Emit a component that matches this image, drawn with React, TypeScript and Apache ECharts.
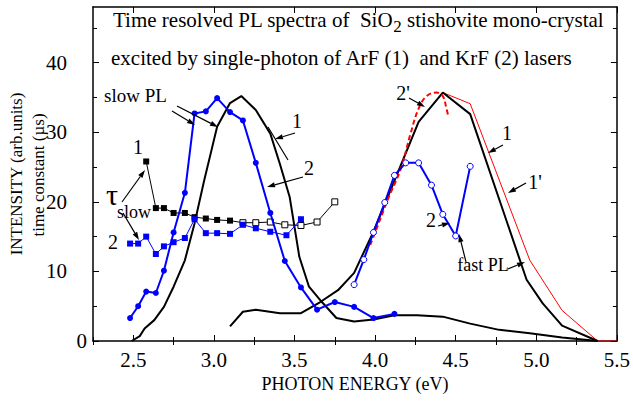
import React, { useEffect, useRef } from "react";
import * as echarts from "echarts";

const FONT = "Liberation Serif";

// X ticks / Y ticks
const xMajor = [2.5, 3.0, 3.5, 4.0, 4.5, 5.0, 5.5];
const xMinor = [2.25, 2.75, 3.25, 3.75, 4.25, 4.75, 5.25];
const yMajor = [0, 10, 20, 30, 40];
const yMinor = [5, 15, 25, 35, 45];

// Slow PL, ArF (1) — black thick
const slowPLArF = [
  [2.49, 0], [2.54, 0.7], [2.57, 1.8], [2.63, 3.0], [2.69, 4.9], [2.75, 7.8], [2.82, 11.6],
  [2.88, 16.9], [2.94, 23.1], [2.99, 27.9], [3.02, 30.8], [3.10, 34.2], [3.17, 35.2],
  [3.26, 33.2], [3.35, 29.8], [3.41, 25.4], [3.47, 20.7], [3.53, 12.1], [3.59, 7.8],
  [3.67, 5.6], [3.76, 3.3], [3.87, 2.8], [3.99, 3.1], [4.12, 3.7], [4.26, 3.7],
  [4.42, 3.5], [4.59, 2.5], [4.77, 1.6], [4.96, 1.1], [5.16, 0.5], [5.38, 0],
];

// Fast PL, ArF (1) — black thick
const fastPLArF = [
  [3.10, 2.1], [3.18, 4.2], [3.26, 4.5], [3.41, 4.0], [3.54, 4.0], [3.66, 5.6],
  [3.77, 7.3], [3.87, 9.8], [3.99, 15.7], [4.13, 23.6], [4.27, 31.5], [4.42, 35.7],
  [4.59, 32.6], [4.94, 8.8], [5.04, 5.4], [5.16, 2.2], [5.38, 0],
];

// Fast PL, ArF (1') — red thin
const fastPLArF1p = [
  [3.99, 15.7], [4.13, 23.6], [4.27, 31.5], [4.42, 35.7], [4.59, 34.1],
  [4.96, 11.6], [5.16, 4.4], [5.38, 0], [5.5, 0],
];

// Fit (2') — red dashed
const fit2p = [
  [3.97, 13.8], [4.02, 16.8], [4.08, 20.4], [4.16, 24.8], [4.22, 29.8], [4.27, 33.4],
  [4.32, 35.2], [4.38, 35.7], [4.42, 35.2], [4.44, 33.7], [4.455, 32.2],
];

// Slow PL, KrF (2) — blue filled circles
const slowPLKrF = [
  [2.48, 3.3], [2.53, 5.0], [2.58, 7.1], [2.64, 6.9], [2.69, 10.1], [2.75, 15.6],
  [2.82, 21.3], [2.88, 32.7], [2.95, 33.0], [3.02, 34.9], [3.10, 32.9], [3.18, 31.7],
  [3.26, 25.6], [3.35, 18.4], [3.44, 11.5], [3.54, 7.7], [3.64, 4.5], [3.75, 5.6],
  [3.87, 4.9], [3.99, 3.3], [4.12, 3.9],
];

// Fast PL, KrF (2) — blue open circles
const fastPLKrF = [
  [3.87, 8.1], [3.93, 11.7], [3.99, 15.6], [4.06, 19.9], [4.12, 23.8], [4.19, 25.6],
  [4.27, 25.6], [4.35, 22.4], [4.42, 18.2], [4.50, 15.1], [4.59, 25.1],
];

// tau slow (1) — black squares (open from index 9)
const tauSlow1 = [
  [2.58, 25.8], [2.64, 19.1], [2.69, 19.1], [2.75, 18.4], [2.82, 18.4], [2.88, 17.8],
  [2.95, 17.6], [3.02, 17.4], [3.10, 17.3], [3.18, 17.0], [3.26, 17.0], [3.35, 17.1],
  [3.44, 16.7], [3.54, 16.6], [3.64, 17.1], [3.75, 20.0],
];
const tauSlow1OpenFrom = 9;

// tau slow (2) — blue squares
const tauSlow2 = [
  [2.48, 14.0], [2.53, 14.0], [2.58, 15.0], [2.64, 12.5], [2.69, 13.6], [2.75, 14.2],
  [2.82, 14.8], [2.88, 17.5], [2.95, 15.5], [3.02, 15.5], [3.10, 15.4], [3.18, 16.7],
  [3.26, 16.2], [3.35, 15.7], [3.45, 15.2], [3.54, 17.5],
];

const BLUE = "#0000ff";
const RED = "#ff0000";

function arrow(x1: number, y1: number, x2: number, y2: number, head = 8, w = 2.6) {
  const a = Math.atan2(y2 - y1, x2 - x1);
  const c = Math.cos(a), s = Math.sin(a);
  const bx = x2 - head * c, by = y2 - head * s;
  return [
    { type: "line", shape: { x1, y1, x2: bx, y2: by }, style: { stroke: "#000", lineWidth: 1.2 }, z: 100 },
    {
      type: "polygon",
      shape: { points: [[x2, y2], [bx + w * s, by - w * c], [bx - w * s, by + w * c]] },
      style: { fill: "#000" },
      z: 100,
    },
  ];
}

function label(text: string, x: number, y: number, size = 20, align = "center") {
  return {
    type: "text",
    x,
    y,
    z: 100,
    style: { text, fontSize: size, fontFamily: FONT, fill: "#000", align, verticalAlign: "middle" },
  };
}

export default function App() {
  const ref = useRef<HTMLDivElement>(null);
  useEffect(() => {
    if (!ref.current) return;
    const chart = echarts.init(ref.current, null, { renderer: "svg" });
    const xMin = 2.25, xMax = 5.5, yMin = 0, yMax = 48;
    const frame = { show: true, onZero: false, lineStyle: { color: "#000", width: 1.5 } };
    const txt = { fontFamily: FONT, fontWeight: "normal" as const, fontStyle: "normal" as const };
    const mkX = (pos: string, vals: number[], len: number, showLine: boolean, labels: boolean) => ({
      type: "value",
      min: xMin,
      max: xMax,
      position: pos,
      axisLine: showLine ? frame : { show: false },
      axisTick: { show: true, inside: true, length: len, customValues: vals, lineStyle: { color: "#000", width: 1 } },
      axisLabel: labels
        ? { show: true, customValues: vals, formatter: (v: number) => v.toFixed(1), color: "#000", fontSize: 21, margin: 8, ...txt }
        : { show: false },
      splitLine: { show: false },
    });
    const mkY = (pos: string, vals: number[], len: number, showLine: boolean, labels: boolean) => ({
      type: "value",
      min: yMin,
      max: yMax,
      position: pos,
      axisLine: showLine ? frame : { show: false },
      axisTick: { show: true, inside: true, length: len, customValues: vals, lineStyle: { color: "#000", width: 1 } },
      axisLabel: labels
        ? {
            show: true,
            customValues: vals,
            formatter: (v: number) => (v === 0 ? "0" : `{w|${v}}`),
            rich: { w: { fontSize: 21, color: "#000", padding: [0, 20, 0, 0], ...txt } },
            color: "#000",
            fontSize: 21,
            margin: 6,
            ...txt,
          }
        : { show: false },
      splitLine: { show: false },
    });

    const xBottom: any = mkX("bottom", xMajor, 6, true, true);
    xBottom.name = "PHOTON ENERGY (eV)";
    xBottom.nameLocation = "middle";
    xBottom.nameGap = 33;
    xBottom.nameTextStyle = { color: "#000", fontSize: 18, ...txt };

    const lineSeries = (data: any[], extra: any) => ({
      type: "line",
      data,
      xAxisIndex: 0,
      yAxisIndex: 0,
      symbol: "none",
      ...extra,
    });

    const graphics: any[] = [
      {
        type: "text",
        x: 113,
        y: 20,
        z: 100,
        style: {
          text: "Time resolved PL spectra of  SiO{s|2} stishovite mono-crystal",
          fontSize: 21,
          fontFamily: FONT,
          fill: "#000",
          align: "left",
          verticalAlign: "middle",
          rich: { s: { fontSize: 17, fontFamily: FONT, fill: "#000", padding: [13, 0, 0, 0] } },
        },
      },
      label("excited by single-photon of ArF (1)  and KrF (2) lasers", 111, 58, 21, "left"),
      {
        type: "text",
        x: 16,
        y: 174,
        rotation: Math.PI / 2,
        style: { text: "INTENSITY (arb.units)", fontSize: 17, fontFamily: FONT, fill: "#000", align: "center", verticalAlign: "middle" },
      },
      {
        type: "text",
        x: 38,
        y: 175,
        rotation: Math.PI / 2,
        style: { text: "time constant (µs)", fontSize: 17, fontFamily: FONT, fill: "#000", align: "center", verticalAlign: "middle" },
      },
      label("slow PL", 104, 95, 19, "left"),
      label("1", 297, 121),
      label("2", 309, 168),
      label("1", 138, 147),
      label("\u03C4", 112, 194, 30),
      label("slow", 134, 212, 18),
      label("2", 113, 242),
      label("2'", 403, 93),
      label("1", 507, 133),
      label("1'", 535, 182),
      label("2", 431, 220),
      label("fast PL", 483, 265, 18),
      { type: "line", shape: { x1: 268, y1: 127, x2: 288, y2: 160 }, style: { stroke: "#000", lineWidth: 1.2 }, z: 100 },
      ...arrow(172, 111, 195, 125),
      ...arrow(177, 106, 218, 127),
      ...arrow(295, 133, 275, 139),
      ...arrow(303, 177, 267, 187),
      ...arrow(122, 202, 145, 170),
      ...arrow(123, 213, 139, 240),
      ...arrow(409, 98, 425, 107),
      ...arrow(503, 145, 488, 153),
      ...arrow(526, 183, 508, 193),
      ...arrow(438, 226, 450, 223),
      ...arrow(466, 262, 459, 234),
      ...arrow(508, 269, 525, 262),
    ];

    chart.setOption({
      animation: false,
      backgroundColor: "#fff",
      textStyle: { fontFamily: FONT, fontWeight: "normal" },
      grid: { left: 93, top: 7, right: 11, bottom: 62, containLabel: false },
      xAxis: [
        xBottom,
        mkX("bottom", xMinor, 4, false, false),
        mkX("top", xMajor, 6, true, false),
        mkX("top", xMinor, 4, false, false),
      ],
      yAxis: [
        mkY("left", yMajor, 6, true, true),
        mkY("left", yMinor, 4, false, false),
        mkY("right", yMajor, 6, true, false),
        mkY("right", yMinor, 4, false, false),
      ],
      series: [
        lineSeries(fastPLArF1p, { lineStyle: { color: RED, width: 1 }, itemStyle: { color: RED }, z: 2 }),
        lineSeries(slowPLArF, { lineStyle: { color: "#000", width: 2 }, itemStyle: { color: "#000" }, z: 3 }),
        lineSeries(fastPLArF, { lineStyle: { color: "#000", width: 2 }, itemStyle: { color: "#000" }, z: 3 }),
        lineSeries(fit2p, { smooth: 0.4, lineStyle: { color: RED, width: 2, type: [5, 3] }, itemStyle: { color: RED }, z: 4 }),
        lineSeries(tauSlow1.map((p, i) =>
          i >= tauSlow1OpenFrom
            ? { value: p, itemStyle: { color: "#fff", borderColor: "#000", borderWidth: 1 } }
            : { value: p }
        ), {
          symbol: "rect", symbolSize: 6, showSymbol: true,
          lineStyle: { color: "#000", width: 1 }, itemStyle: { color: "#000" }, z: 5,
        }),
        lineSeries(tauSlow2, {
          symbol: "rect", symbolSize: 6, showSymbol: true,
          lineStyle: { color: BLUE, width: 1 }, itemStyle: { color: BLUE }, z: 6,
        }),
        lineSeries(slowPLKrF, {
          symbol: "circle", symbolSize: 6, showSymbol: true,
          lineStyle: { color: BLUE, width: 2 }, itemStyle: { color: BLUE }, z: 7,
        }),
        lineSeries(fastPLKrF, {
          symbol: "circle", symbolSize: 6, showSymbol: true,
          lineStyle: { color: BLUE, width: 2 }, itemStyle: { color: "#fff", borderColor: BLUE, borderWidth: 1 }, z: 7,
        }),
      ],
      graphic: graphics,
    });
    return () => chart.dispose();
  }, []);
  return (
    <>
      <style>{`#pl-chart svg text { font-family: "Liberation Serif", serif !important; font-weight: normal !important; }`}</style>
      <div id="pl-chart" ref={ref} style={{ position: "fixed", left: 0, top: 0, width: 633, height: 403 }} />
    </>
  );
}
